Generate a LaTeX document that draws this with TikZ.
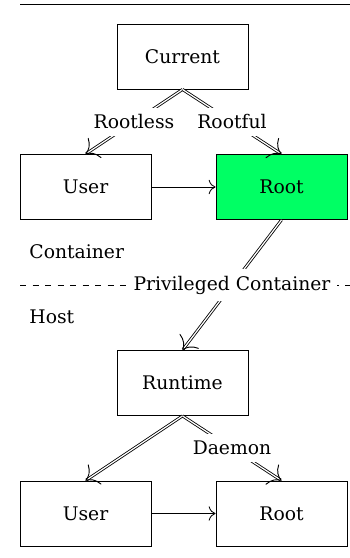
\documentclass[tikz,border=0pt]{standalone}
\usepackage{fontspec}
\setmainfont{DejaVu Serif}
\usetikzlibrary{arrows.meta}
\definecolor{rootgreen}{RGB}{0,255,100}
\begin{document}
\begin{tikzpicture}[x=0.48pt,y=-0.48pt,
  font=\fontsize{9}{10}\selectfont,
  box/.style={draw, minimum width=62.9pt, minimum height=31.2pt, inner sep=0pt},
  dbl/.style={double, -{To[length=5.5pt, line width=0.45pt]}},
  sgl/.style={-{To[length=3.3pt]}},
  lbl/.style={fill=white},
  side/.style={anchor=west, inner sep=0pt}]
\useasboundingbox (0,0) rectangle (350,558);
\coordinate (ruleL) at (20,4);
\coordinate (ruleR) at (350,4);
\draw (ruleL) -- (ruleR);
\coordinate (dashL) at (20,285);
\coordinate (dashR) at (350,285);
\draw[dashed] (dashL) -- (dashR);

\node[box] (cur) at (182.5,56.5) {Current};
\node[box] (user1) at (85.5,187) {User};
\node[box, fill=rootgreen] (root1) at (281.5,187) {Root};
\node[box] (run) at (182.5,383) {Runtime};
\node[box] (user2) at (85.5,513.5) {User};
\node[box] (root2) at (281.5,513.5) {Root};

\node[side] (cont) at (29,252) {Container};
\node[side] (host) at (29,317) {Host};

\draw[dbl] (cur.south) -- node[lbl] {Rootless} (user1.north);
\draw[dbl] (cur.south) -- node[lbl] {Rootful} (root1.north);
\draw[sgl] (user1) -- (root1);
\draw[dbl] (root1.south) -- node[lbl] {Privileged Container} (run.north);
\draw[dbl] (run.south) -- (user2.north);
\draw[dbl] (run.south) -- node[lbl] {Daemon} (root2.north);
\draw[sgl] (user2) -- (root2);
\end{tikzpicture}
\end{document}
